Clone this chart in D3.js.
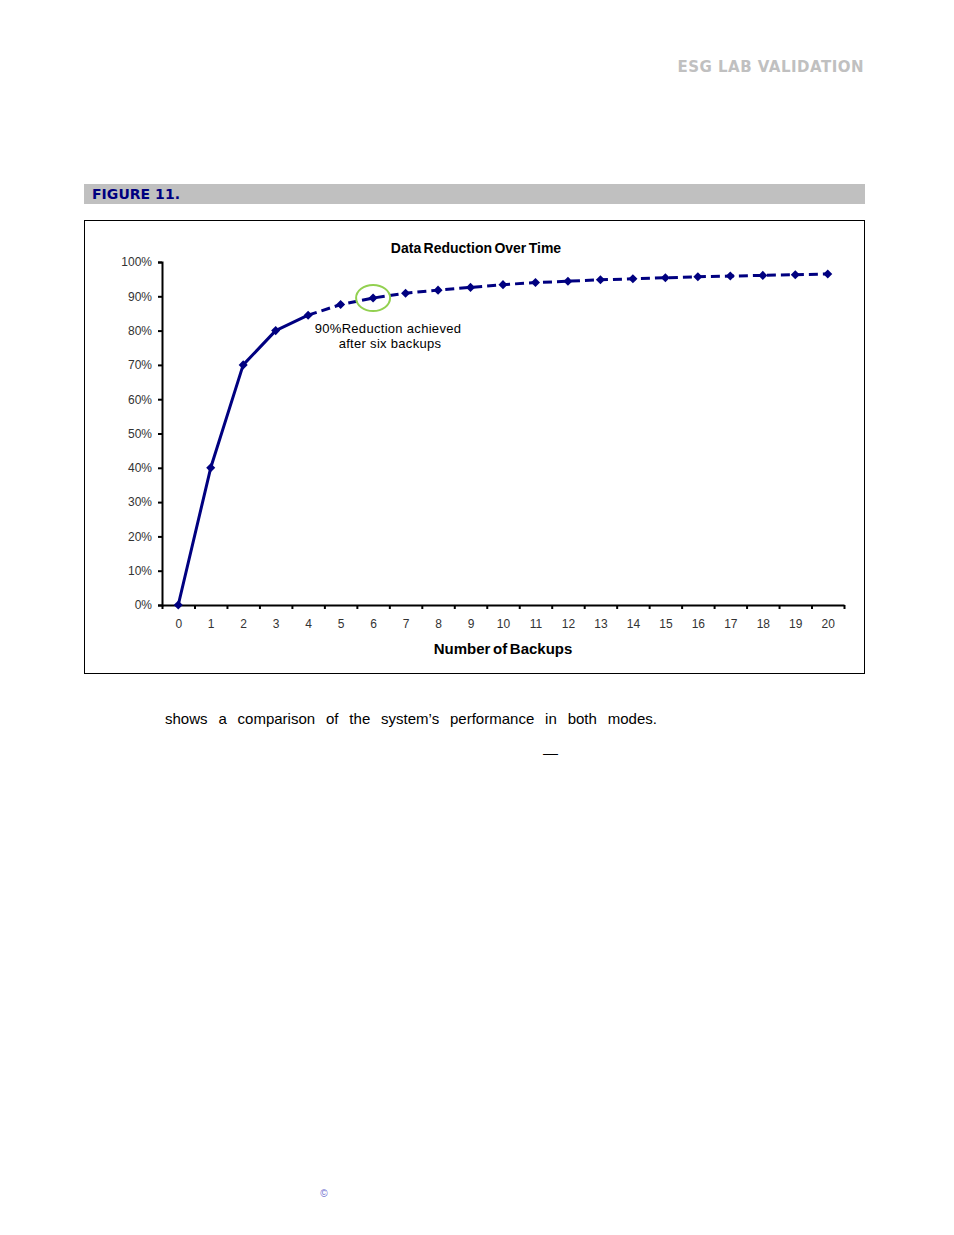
<!DOCTYPE html>
<html><head><meta charset="utf-8">
<script src="https://cdn.jsdelivr.net/npm/d3@7"></script>
<style>body{margin:0;background:#fff}svg{display:block}</style>
</head><body>
<script>
const backups = d3.range(0, 21);
const reduction = [0, 40, 70, 80, 84.5, 87.6, 89.5, 90.9, 91.8, 92.6, 93.4, 94.0, 94.4, 94.8, 95.1, 95.4, 95.7, 95.9, 96.1, 96.3, 96.5];
const yTicks = [0, 10, 20, 30, 40, 50, 60, 70, 80, 90, 100];
const solidUntil = 4;
const highlightIndex = 6;
const chartTitle = "Data Reduction Over Time";
const xTitle = "Number of Backups";
const annotation = ["90%Reduction achieved", "after six backups"];

const W = 954, H = 1235;
const svg = d3.select("body").append("svg").attr("width", W).attr("height", H)
  .style("font-family", "Arial, 'Liberation Sans', sans-serif");

// page header
const esg = svg.append("text").attr("x", 864).attr("y", 72).attr("text-anchor", "end")
  .attr("font-size", 15).attr("font-weight", "bold").style("font-family", "'DejaVu Sans', sans-serif")
  .attr("fill", "#c0c0c0").text("ESG LAB VALIDATION");
svg.append("rect").attr("x", 84).attr("y", 184).attr("width", 781).attr("height", 20).attr("fill", "#c0c0c0");
const fig = svg.append("text").attr("x", 92).attr("y", 199).attr("font-size", 14).attr("font-weight", "bold")
  .style("font-family", "'DejaVu Sans', sans-serif").attr("fill", "#000080").text("FIGURE 11.");
// fit to reference widths
function fitWidth(sel, target) {
  const w = sel.node().getComputedTextLength();
  const n = sel.text().length;
  sel.attr("letter-spacing", (target - w) / (n - 1));
}
fitWidth(esg, 186);
fitWidth(fig, 88);

// chart frame
svg.append("rect").attr("x", 84.5).attr("y", 220.5).attr("width", 780).attr("height", 453)
  .attr("fill", "none").attr("stroke", "#000").attr("stroke-width", 1);

const x = d3.scaleLinear().domain([-0.5, 20.5]).range([162, 844]);
const y = d3.scaleLinear().domain([0, 100]).range([605, 262]);

// y axis
const ya = svg.append("g").attr("transform", "translate(162,0)")
  .call(d3.axisLeft(y).tickValues(yTicks).tickSize(4).tickFormat(d => d + "%"));
ya.select(".domain").attr("stroke", "#000").attr("stroke-width", 2);
ya.selectAll(".tick line").attr("stroke", "#000").attr("stroke-width", 2);
ya.selectAll(".tick text").attr("font-size", 12).attr("fill", "#333").attr("x", -10)
  .style("font-family", "Arial, 'Liberation Sans', sans-serif");

// x axis ticks at boundaries
const xb = svg.append("g").attr("transform", "translate(0,605)")
  .call(d3.axisBottom(x).tickValues(d3.range(-0.5, 21, 1)).tickSize(4).tickSizeOuter(0).tickFormat(""));
xb.select(".domain").attr("stroke", "#000").attr("stroke-width", 2);
xb.selectAll(".tick line").attr("stroke", "#000").attr("stroke-width", 2);
// x labels
const xl = svg.append("g").attr("transform", "translate(0,605)")
  .call(d3.axisBottom(x).tickValues(backups).tickSize(0).tickPadding(14).tickFormat(d3.format("d")));
xl.select(".domain").remove();
xl.selectAll(".tick text").attr("font-size", 12).attr("fill", "#333")
  .style("font-family", "Arial, 'Liberation Sans', sans-serif");

// titles
svg.append("text").attr("x", 476).attr("y", 253).attr("text-anchor", "middle")
  .attr("font-size", 14).attr("font-weight", "bold").attr("word-spacing", -1.5).text(chartTitle);
svg.append("text").attr("x", 503).attr("y", 654).attr("text-anchor", "middle")
  .attr("font-size", 15).attr("font-weight", "bold").attr("word-spacing", -1.5).text(xTitle);

// lines
const pts = backups.map((b, i) => ({ b, v: reduction[i] }));
const line = d3.line().x(d => x(d.b)).y(d => y(d.v));
svg.append("path").datum(pts.slice(0, solidUntil + 1)).attr("d", line)
  .attr("fill", "none").attr("stroke", "#000080").attr("stroke-width", 3).attr("stroke-linejoin", "round");
svg.append("path").datum(pts.slice(solidUntil)).attr("d", line)
  .attr("fill", "none").attr("stroke", "#000080").attr("stroke-width", 3).attr("stroke-dasharray", "9,5");

// markers (square rotated 45°)
svg.append("g").selectAll("rect").data(pts).join("rect")
  .attr("transform", d => `translate(${x(d.b)},${y(d.v)}) rotate(45)`)
  .attr("x", -3.2).attr("y", -3.2).attr("width", 6.4).attr("height", 6.4)
  .attr("fill", "#000080");

// highlight ellipse
svg.append("ellipse").attr("cx", x(highlightIndex)).attr("cy", y(reduction[highlightIndex]))
  .attr("rx", 17).attr("ry", 13).attr("fill", "none").attr("stroke", "#92d050").attr("stroke-width", 2);

// annotation
svg.append("text").attr("x", 388).attr("y", 333).attr("text-anchor", "middle").attr("font-size", 13)
  .attr("letter-spacing", 0.3).text(annotation[0]);
svg.append("text").attr("x", 390).attr("y", 348).attr("text-anchor", "middle").attr("font-size", 13)
  .attr("letter-spacing", 0.3).text(annotation[1]);

// body text
svg.append("text").attr("x", 165).attr("y", 724).attr("font-size", 15).attr("word-spacing", 6.7)
  .text("shows a comparison of the system\u2019s performance in both modes.");
svg.append("text").attr("x", 543).attr("y", 758).attr("font-size", 15).text("\u2014");
svg.append("text").attr("x", 324).attr("y", 1197).attr("text-anchor", "middle").attr("font-size", 10)
  .attr("fill", "#6666cc").text("\u00a9");
</script>
</body></html>
